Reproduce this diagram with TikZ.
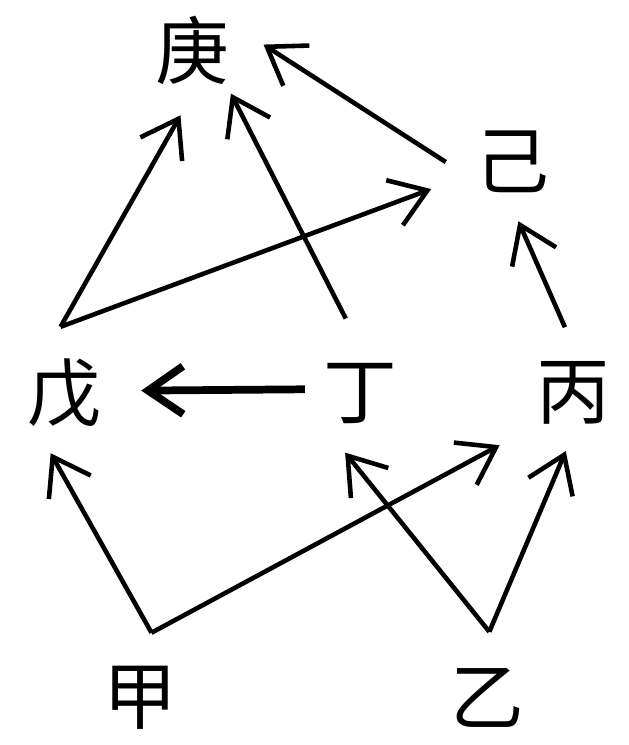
\documentclass[tikz,border=0pt]{standalone}
\usepackage{fontspec}
\newfontfamily\cjk{Noto Sans CJK SC}
\usetikzlibrary{arrows.meta}

\begin{document}
\begin{tikzpicture}[x=0.02cm, y=-0.02cm, line width=2.6pt,
    >={Straight Barb[length=7mm,width=9.6mm]},
    main/.style = {circle, minimum size=2.56cm, inner sep=0pt, font=\cjk\fontsize{42}{48}\selectfont}]
    \useasboundingbox (0,0) rectangle (629,745);
    \node[main] (geng) at (192,50) {庚};
    \node[main] (ji) at (512,162) {己};
    \node[main] (wu) at (64,393) {戊};
    \node[main] (ding) at (360,394) {丁};
    \node[main] (bing) at (573,393) {丙};
    \node[main] (jia) at (140,698) {甲};
    \node[main] (yi) at (487,698) {乙};
    % upper level
    \draw[->] (wu.93) -- (geng.260);
    \draw[->, shorten >=3.8mm] (wu.93) -- (ji.198);
    \draw[->, shorten <=2.2mm, shorten >=-1.6mm] (ding.98) -- (geng.-50);
    \draw[->, shorten >=1.4mm] (ji.180) -- (geng.8);
    \draw[->, shorten >=-1.4mm] (bing.97) -- (ji.-82);
    \draw[->, line width=4.4pt, shorten <=-2.2mm, shorten >=2.2mm] (ding.176) -- (wu.2);
    % lower level
    \draw[->, shorten >=-1.2mm] (jia.80) -- (wu.-99);
    \draw[->, shorten >=4.8mm] (jia.80) -- (bing.218.6);
    \draw[->, shorten >=-1.8mm] (yi.88) -- (ding.-98);
    \draw[->, shorten >=-1.6mm] (yi.88) -- (bing.-99);
\end{tikzpicture}
\end{document}
